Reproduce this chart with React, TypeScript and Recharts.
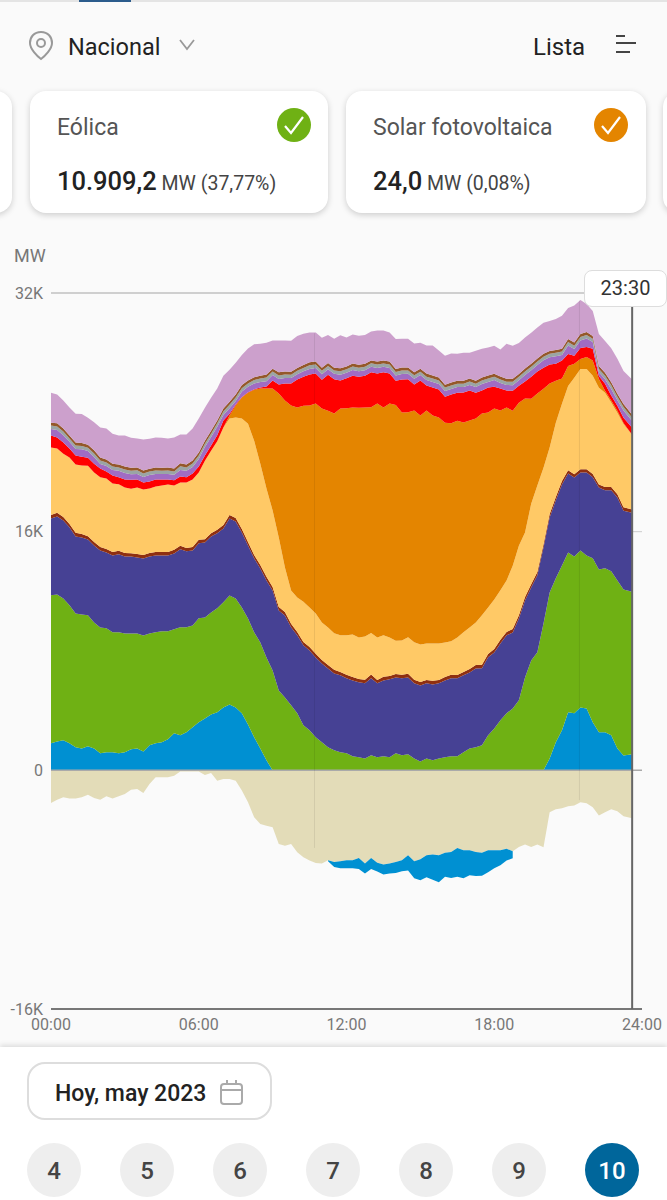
import { AreaChart, Area, XAxis, YAxis, ReferenceLine } from 'recharts';

// quarter hours, last sample sits under the 23:30 cursor
const hours = [
  0, 0.25, 0.5, 0.75, 1, 1.25, 1.5, 1.75, 2, 2.25, 2.5, 2.75, 3, 3.25, 3.5, 3.75, 4, 4.25, 4.5, 4.75,
  5, 5.25, 5.5, 5.75, 6, 6.25, 6.5, 6.75, 7, 7.25, 7.5, 7.75, 8, 8.25, 8.5, 8.75, 9, 9.25, 9.5, 9.75,
  10, 10.25, 10.5, 10.75, 11, 11.25, 11.5, 11.75, 12, 12.25, 12.5, 12.75, 13, 13.25, 13.5, 13.75, 14, 14.25, 14.5, 14.75,
  15, 15.25, 15.5, 15.75, 16, 16.25, 16.5, 16.75, 17, 17.25, 17.5, 17.75, 18, 18.25, 18.5, 18.75, 19, 19.25, 19.5, 19.75,
  20, 20.25, 20.5, 20.75, 21, 21.25, 21.5, 21.75, 22, 22.25, 22.5, 22.75, 23, 23.25, 23.6,
];
const hidraulica = [
  1810, 1940, 2010, 1810, 1540, 1470, 1610, 1470, 1140, 1210, 1210, 1140, 1210, 1410, 1470, 1270, 1680, 1810, 1880, 2080,
  2480, 2350, 2550, 2880, 3220, 3480, 3750, 3890, 4220, 4420, 4220, 3820, 3080, 2210, 1470, 670, 0, 0, 0, 0,
  0, 0, 0, 0, 0, 0, 0, 0, 0, 0, 0, 0, 0, 0, 0, 0, 0, 0, 0, 0,
  0, 0, 0, 0, 0, 0, 0, 0, 0, 0, 0, 0, 0, 0, 0, 0, 0, 0, 0, 0,
  0, 800, 1880, 2680, 3890, 3820, 4220, 4150, 3220, 2550, 2550, 2350, 1470, 1000, 1070,
];
const eolica = [
  9920, 9850, 9510, 9250, 8980, 8980, 8780, 8440, 8440, 8310, 8040, 8110, 7970, 7770, 7710, 7770, 7500, 7440, 7440, 7240,
  6970, 7240, 7040, 6830, 6970, 6770, 6830, 6970, 7040, 7300, 7300, 7100, 7100, 7040, 7100, 6900, 6700, 5360, 4890, 4360,
  3820, 3020, 2680, 2210, 1880, 1540, 1340, 1210, 1140, 940, 870, 800, 1010, 870, 940, 870, 1140, 1010, 1070, 800,
  600, 800, 670, 800, 870, 940, 940, 1210, 1470, 1540, 1680, 2350, 2810, 3350, 3820, 4150, 4690, 6230, 7370, 7910,
  9850, 11120, 10990, 11060, 10720, 10520, 10520, 10250, 10990, 10920, 10990, 10990, 11260, 11120, 10909,
];
const nuclear = [
  5160, 5230, 5230, 5230, 5160, 5160, 5090, 5160, 5160, 5090, 5160, 5230, 5160, 5160, 5090, 5160, 5160, 5160, 5090, 5090,
  5090, 5230, 5090, 5030, 5030, 5030, 5090, 5030, 4960, 5160, 5160, 5030, 4890, 4960, 4960, 5160, 5360, 5360, 5490, 5230,
  5230, 5360, 5360, 5360, 5290, 5290, 5160, 5160, 5030, 5090, 5030, 5030, 5160, 4960, 5090, 5230, 5090, 5160, 5160, 5030,
  5090, 5030, 5090, 5030, 5160, 5230, 5230, 5160, 5090, 5290, 5160, 5230, 5090, 5160, 5230, 5090, 5490, 5160, 4890, 5160,
  5090, 5030, 5230, 5430, 5290, 5290, 5230, 5560, 5430, 5490, 5230, 5430, 5560, 5290, 5290,
];
const carbon = [
  230, 240, 230, 230, 240, 230, 220, 230, 240, 230, 230, 240, 230, 220, 230, 240, 230, 230, 220, 230,
  240, 230, 230, 240, 230, 220, 230, 240, 230, 230, 240, 230, 230, 220, 230, 240, 230, 230, 240, 230,
  230, 220, 230, 240, 230, 230, 240, 230, 240, 230, 220, 240, 250, 230, 240, 230, 220, 230, 240, 250,
  240, 230, 240, 230, 230, 240, 220, 230, 240, 230, 230, 220, 230, 240, 230, 230, 220, 230, 220, 230,
  220, 230, 220, 220, 210, 220, 210, 220, 220, 210, 220, 230, 220, 220, 220,
];
const cicloCombinado = [
  4520, 4320, 4250, 4460, 4590, 4590, 4720, 4660, 4660, 4720, 4590, 4460, 4390, 4320, 4460, 4390, 4320, 4390, 4460, 4520,
  4320, 4250, 4390, 4520, 4520, 5260, 5530, 5930, 6530, 6470, 6730, 7400, 7940, 7670, 6800, 5930, 5130, 4660, 2980, 2240,
  2310, 2710, 2650, 2710, 2510, 2510, 2450, 2450, 2650, 2850, 2780, 2910, 2780, 2850, 2780, 2580, 2240, 2310, 2450, 2510,
  2510, 2450, 2510, 2450, 2310, 2240, 2510, 2650, 2780, 2850, 3320, 3120, 3320, 3320, 3450, 4250, 4660, 4320, 5390, 5800,
  5130, 4460, 4990, 5190, 5660, 6470, 6730, 6730, 6600, 6470, 6330, 5660, 5460, 5590, 4990,
];
const fotovoltaica = [
  0, 0, 0, 0, 0, 0, 0, 0, 0, 0, 0, 0, 0, 0, 0, 0, 0, 0, 0, 0,
  0, 0, 0, 0, 0, 0, 0, 0, 0, 200, 800, 1410, 2080, 3420, 5030, 6700, 8170, 9650, 11190, 12400,
  12730, 13130, 13530, 14070, 14340, 14540, 14740, 15210, 15210, 15210, 15410, 15340, 15140, 15680, 15280, 15680, 15810, 15280, 15080, 15540,
  15340, 15610, 15280, 15140, 14740, 14610, 14540, 14070, 13870, 13670, 13530, 13070, 12800, 12060, 11590, 10390, 9580, 8980, 7040, 6160,
  5290, 4290, 2810, 1680, 1340, 940, 670, 800, 1010, 600, 130, 130, 130, 70, 24,
];
const termosolar = [
  800, 740, 740, 600, 600, 600, 540, 600, 600, 470, 540, 470, 540, 600, 540, 470, 470, 470, 400, 340,
  340, 400, 340, 400, 400, 340, 340, 400, 470, 130, 70, 30, 30, 30, 70, 130, 540, 600, 1140, 1470,
  1880, 1940, 2080, 2010, 1940, 2410, 2280, 1880, 2010, 2140, 2080, 2140, 2350, 2010, 2350, 2010, 1610, 2210, 2210, 1740,
  2350, 1680, 1880, 1880, 1740, 1940, 1880, 2010, 2010, 1740, 1540, 1680, 1470, 1470, 1140, 1340, 1140, 1140, 1470, 1470,
  1410, 1270, 1140, 1210, 800, 540, 740, 670, 800, 200, 470, 340, 340, 340, 470,
];
const cogeneracion = [
  440, 500, 500, 440, 440, 500, 440, 440, 300, 370, 370, 440, 440, 370, 370, 370, 440, 370, 370, 370,
  370, 440, 440, 440, 500, 570, 570, 570, 370, 370, 240, 370, 370, 380, 370, 360, 370, 380, 370, 370,
  360, 370, 380, 370, 370, 360, 370, 380, 370, 370, 370, 360, 370, 380, 370, 370, 360, 370, 370, 380,
  370, 360, 370, 370, 380, 370, 370, 360, 370, 370, 440, 370, 440, 370, 370, 370, 370, 440, 440, 440,
  500, 500, 500, 370, 570, 440, 500, 570, 440, 240, 300, 440, 370, 500, 440,
];
const residuos = [
  230, 230, 240, 230, 230, 220, 230, 240, 230, 230, 230, 220, 230, 230, 240, 230, 230, 230, 220, 230,
  230, 240, 230, 230, 230, 220, 230, 230, 240, 230, 230, 230, 220, 230, 230, 240, 230, 230, 230, 220,
  230, 230, 240, 230, 230, 230, 220, 230, 230, 240, 230, 230, 230, 220, 230, 230, 240, 230, 230, 230,
  220, 230, 230, 240, 230, 230, 230, 220, 230, 230, 240, 230, 230, 230, 220, 230, 230, 240, 230, 230,
  230, 220, 230, 230, 240, 230, 230, 230, 220, 230, 230, 240, 230, 230, 230,
];
const otras = [
  200, 210, 200, 200, 190, 200, 200, 210, 200, 200, 190, 200, 200, 210, 200, 200, 190, 200, 200, 210,
  200, 200, 190, 200, 200, 210, 200, 200, 190, 200, 200, 210, 200, 200, 190, 200, 200, 210, 200, 200,
  190, 200, 200, 210, 200, 200, 190, 200, 200, 210, 200, 200, 190, 200, 200, 210, 200, 200, 190, 200,
  200, 210, 200, 200, 190, 200, 200, 210, 200, 200, 190, 200, 200, 210, 200, 200, 190, 200, 200, 210,
  200, 200, 190, 200, 200, 210, 200, 200, 190, 200, 200, 210, 200, 200, 200,
];
const otrasRenovables = [
  2010, 1940, 1880, 1880, 1940, 1940, 1810, 1880, 2010, 2080, 2010, 1940, 2080, 2010, 1940, 2080, 2010, 2010, 2010, 1940,
  2080, 1940, 2010, 2140, 2280, 2210, 2210, 2140, 2210, 2140, 2140, 2010, 2140, 2210, 2140, 2140, 1880, 2140, 2080, 2080,
  2140, 2080, 2010, 1940, 2010, 1880, 1940, 2210, 1940, 1940, 1940, 1940, 1940, 2080, 2010, 1940, 2010, 1940, 1940, 1940,
  1740, 1880, 2010, 1810, 1940, 1940, 1810, 1880, 1740, 2010, 1940, 1880, 1880, 1810, 2350, 2210, 2080, 2080, 2080, 2080,
  2080, 2010, 2080, 2210, 2080, 2480, 2280, 1880, 1680, 2140, 2140, 2280, 2350, 2210, 2350,
];
const saldo = [
  -2190, -1970, -1810, -1880, -1880, -1810, -1630, -1850, -1970, -1740, -1880, -1740, -1590, -1300, -1250, -1520, -920, -470, -470, -470,
  -360, -70, -70, -70, -70, -310, -180, -690, -580, -580, -690, -1360, -2140, -3150, -3600, -3710, -3820, -4940, -5050, -4940,
  -5490, -5830, -6050, -6210, -6250, -6030, -6140, -6100, -6030, -6030, -5870, -6250, -5870, -6190, -6320, -6250, -6140, -6030, -5700, -6100,
  -5960, -5700, -5650, -5700, -5520, -5470, -5200, -5360, -5360, -5470, -5520, -5360, -5360, -5360, -5250, -5430, -5140, -4980, -5140, -4980,
  -5160, -2810, -2610, -2550, -2410, -2350, -2140, -2210, -2480, -3020, -2810, -2610, -2750, -3080, -3220,
];
const bombeo = [
  null, null, null, null, null, null, null, null, null, null, null, null, null, null, null, null, null, null, null, null,
  null, null, null, null, null, null, null, null, null, null, null, null, null, null, null, null, null, null, null, null,
  null, null, null, null, null, -70, -340, -470, -540, -540, -740, -670, -740, -600, -670, -670, -740, -740, -1010, -1140,
  -1410, -1470, -1680, -1810, -1610, -1740, -1940, -1880, -1680, -1610, -1540, -1470, -1210, -1010, -800, -470, null, null, null, null,
  null, null, null, null, null, null, null, null, null, null, null, null, null, null, null,
];

const yTicks = [-16000, 0, 16000, 32000];
const yLabels = ['-16K', '0', '16K', '32K'];
const xTicks = [0, 6, 12, 18, 24];
const xLabels = ['00:00', '06:00', '12:00', '18:00', '24:00'];
const days = ['4', '5', '6', '7', '8', '9', '10'];

const series = [
  { key: 'hidraulica', values: hidraulica, color: '#0090d2' },
  { key: 'eolica', values: eolica, color: '#6fb114' },
  { key: 'nuclear', values: nuclear, color: '#464194' },
  { key: 'carbon', values: carbon, color: '#8f2f10' },
  { key: 'cicloCombinado', values: cicloCombinado, color: '#ffc966' },
  { key: 'fotovoltaica', values: fotovoltaica, color: '#e48500' },
  { key: 'termosolar', values: termosolar, color: '#ff0000' },
  { key: 'cogeneracion', values: cogeneracion, color: '#a06cc4' },
  { key: 'residuos', values: residuos, color: '#9aa5a5' },
  { key: 'otras', values: otras, color: '#94582a' },
  { key: 'otrasRenovables', values: otrasRenovables, color: '#cca0cc' },
  { key: 'saldo', values: saldo, color: '#e3dcb8' },
  { key: 'bombeo', values: bombeo, color: '#0090d2' },
];

const chartData = hours.map((h, i) => {
  const row: Record<string, number | null> = { h };
  series.forEach((s) => {
    row[s.key] = s.values[i];
  });
  return row;
});

const font = 'Roboto, sans-serif';

function Check({ color, left }: { color: string; left: number }) {
  return (
    <svg width={36} height={36} style={{ position: 'absolute', left, top: 107 }}>
      <circle cx={18} cy={18} r={17} fill={color} />
      <path d="M9 19 L15 26 L27 10" fill="none" stroke="#fff" strokeWidth={2.2} />
    </svg>
  );
}

function Card({ left, width, title, value, rest }: { left: number; width: number; title: string; value: string; rest: string }) {
  return (
    <div
      style={{
        position: 'absolute',
        left,
        top: 91,
        width,
        height: 122,
        background: '#fff',
        borderRadius: 16,
        boxShadow: '0 2px 6px rgba(0,0,0,0.18)',
      }}
    >
      <div style={{ position: 'absolute', left: 27, top: 23, fontSize: 23, color: '#555', whiteSpace: 'nowrap' }}>{title}</div>
      <div style={{ position: 'absolute', left: 27, top: 75, color: '#222', whiteSpace: 'nowrap' }}>
        <span style={{ fontSize: 25.5, fontWeight: 500 }}>{value}</span>
        <span style={{ fontSize: 19.5, color: '#444' }}> {rest}</span>
      </div>
    </div>
  );
}

export default function App() {
  return (
    <div style={{ position: 'absolute', left: 0, top: 0, width: 667, height: 1200, background: '#fafafa', overflow: 'hidden', fontFamily: font }}>
      <style>{'body{margin:0}'}</style>

      {/* top strip */}
      <div style={{ position: 'absolute', left: 0, top: 0, width: 667, height: 2, background: '#e4e4e4' }} />
      <div style={{ position: 'absolute', left: 79, top: 0, width: 52, height: 2, background: '#2c5c8c' }} />

      {/* location row */}
      <svg width={30} height={32} style={{ position: 'absolute', left: 26, top: 30 }}>
        <path d="M15 2 C8 2 4 7 4 13 C4 19 11 26 15 29 C19 26 26 19 26 13 C26 7 22 2 15 2 Z" fill="none" stroke="#999" strokeWidth={2} />
        <circle cx={15} cy={13} r={4} fill="none" stroke="#999" strokeWidth={2} />
      </svg>
      <div style={{ position: 'absolute', left: 68, top: 33, fontSize: 23.5, color: '#222' }}>Nacional</div>
      <svg width={20} height={14} style={{ position: 'absolute', left: 178, top: 38 }}>
        <path d="M2 2 L9 11 L16 2" fill="none" stroke="#999" strokeWidth={1.8} />
      </svg>
      <div style={{ position: 'absolute', left: 533, top: 33, fontSize: 24, color: '#222' }}>Lista</div>
      <svg width={24} height={22} style={{ position: 'absolute', left: 615, top: 34 }}>
        <path d="M1 2 H10 M1 9 H21 M1 18 H15" fill="none" stroke="#444" strokeWidth={2} />
      </svg>

      {/* cards */}
      <Card left={-288} width={300} title="" value="" rest="" />
      <Card left={30} width={298} title="Eólica" value="10.909,2" rest="MW (37,77%)" />
      <Card left={346} width={300} title="Solar fotovoltaica" value="24,0" rest="MW (0,08%)" />
      <Card left={663} width={300} title="" value="" rest="" />
      <Check color="#6fb114" left={276} />
      <Check color="#e48500" left={593} />

      <div style={{ position: 'absolute', left: 14, top: 245, fontSize: 18, color: '#777' }}>MW</div>

      <div style={{ position: 'absolute', left: 0, top: 270 }}>
        <AreaChart
          width={667}
          height={770}
          data={chartData}
          stackOffset="sign"
          margin={{ top: 23, right: 25, bottom: 1, left: 0 }}
        >
          <XAxis
            type="number"
            dataKey="h"
            domain={[0, 24]}
            ticks={xTicks}
            tickFormatter={(v: number) => xLabels[xTicks.indexOf(v)]}
            axisLine={false}
            tickLine={false}
            tickMargin={4}
            height={30}
            interval={0}
            tick={{ fontSize: 16, fill: '#777', fontFamily: font }}
          />
          <YAxis
            type="number"
            domain={[-16000, 32000]}
            ticks={yTicks}
            tickFormatter={(v: number) => yLabels[yTicks.indexOf(v)]}
            axisLine={false}
            tickLine={false}
            width={51}
            interval={0}
            tick={{ fontSize: 16, fill: '#777', fontFamily: font }}
          />
          {series.map((s) => (
            <Area
              key={s.key}
              type="linear"
              dataKey={s.key}
              stackId="a"
              fill={s.color}
              fillOpacity={1}
              stroke="none"
              dot={false}
              activeDot={false}
              isAnimationActive={false}
            />
          ))}
          <ReferenceLine y={32000} stroke="#cfcfcf" strokeWidth={2} />
          <ReferenceLine y={0} stroke="#aaa" strokeWidth={1.5} />
          <ReferenceLine y={-16000} stroke="#777" strokeWidth={2} />
          <ReferenceLine segment={[{ x: 23.6, y: 16000 }, { x: 24, y: 16000 }]} stroke="#ccc" />
          <ReferenceLine segment={[{ x: 10.7, y: 29300 }, { x: 10.7, y: -5200 }]} stroke="rgba(0,0,0,0.08)" />
          <ReferenceLine segment={[{ x: 21.46, y: 31500 }, { x: 21.46, y: -2000 }]} stroke="rgba(0,0,0,0.08)" />
          <ReferenceLine x={23.6} stroke="#666" strokeWidth={2} />
        </AreaChart>
      </div>

      {/* time badge */}
      <div
        style={{
          position: 'absolute',
          left: 584,
          top: 270,
          width: 81,
          height: 35,
          lineHeight: '35px',
          textAlign: 'center',
          background: '#fff',
          border: '1.5px solid #ddd',
          borderRadius: 8,
          fontSize: 20,
          color: '#333',
        }}
      >
        23:30
      </div>

      {/* bottom panel */}
      <div style={{ position: 'absolute', left: 0, top: 1047, width: 667, height: 153, background: '#fff', boxShadow: '0 -2px 5px rgba(0,0,0,0.12)' }} />
      <div
        style={{
          position: 'absolute',
          left: 27,
          top: 1062,
          width: 245,
          height: 58,
          boxSizing: 'border-box',
          background: '#fff',
          border: '2px solid #ddd',
          borderRadius: 18,
        }}
      />
      <div style={{ position: 'absolute', left: 55, top: 1080, fontSize: 23, fontWeight: 500, color: '#222' }}>Hoy, may 2023</div>
      <svg width={26} height={28} style={{ position: 'absolute', left: 219, top: 1079 }}>
        <rect x={2} y={5} width={21} height={20} rx={3} fill="none" stroke="#aaa" strokeWidth={2} />
        <path d="M2 11 H23 M8 1 V6 M17 1 V6" fill="none" stroke="#aaa" strokeWidth={2} />
      </svg>
      {days.map((d, i) => (
        <div
          key={d}
          style={{
            position: 'absolute',
            left: 27 + i * 93,
            top: 1143,
            width: 54,
            height: 54,
            borderRadius: 27,
            lineHeight: '56px',
            textAlign: 'center',
            fontSize: 24,
            fontWeight: 500,
            background: d === '10' ? '#00669b' : '#eee',
            color: d === '10' ? '#fff' : '#444',
          }}
        >
          {d}
        </div>
      ))}
    </div>
  );
}
